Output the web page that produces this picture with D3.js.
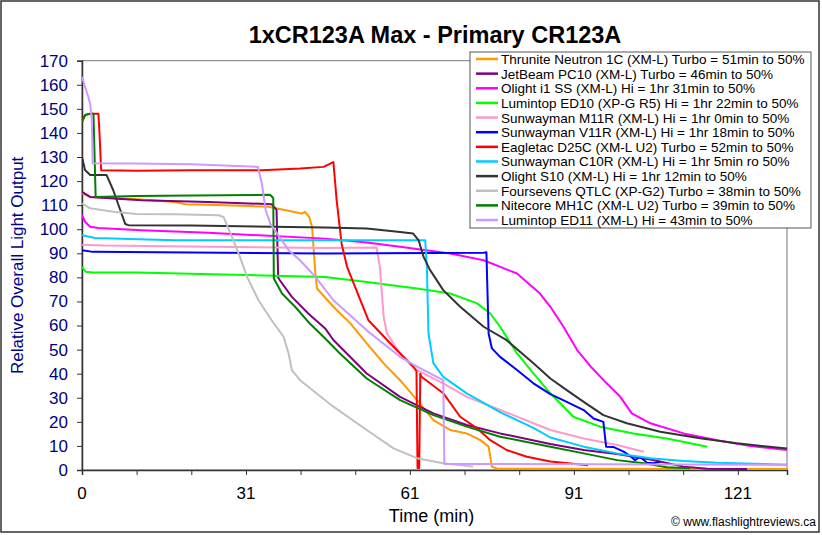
<!DOCTYPE html>
<html><head><meta charset="utf-8">
<script src="https://cdn.jsdelivr.net/npm/d3@7"></script>
<style>body{margin:0;background:#fff}svg{display:block;font-family:"Liberation Sans",Arial,sans-serif}</style>
</head><body><svg id="c" width="822" height="535"></svg>
<script>
const title = "1xCR123A Max - Primary CR123A";
const yTicks = d3.range(0, 171, 10);
const xMinorTicks = d3.range(0, 121, 10);
const xLabelPos = [0, 30, 60, 90, 120];
const xLabels = ["0", "31", "61", "91", "121"];

const names = [
 "Thrunite Neutron 1C (XM-L) Turbo = 51min to 50%",
 "JetBeam PC10 (XM-L) Turbo = 46min to 50%",
 "Olight i1 SS (XM-L) Hi = 1hr 31min to 50%",
 "Lumintop ED10 (XP-G R5) Hi = 1hr 22min to 50%",
 "Sunwayman M11R (XM-L) Hi = 1hr 0min to 50%",
 "Sunwayman V11R (XM-L) Hi = 1hr 18min to 50%",
 "Eagletac D25C (XM-L U2) Turbo  = 52min to 50%",
 "Sunwayman C10R (XM-L) Hi = 1hr 5min ro 50%",
 "Olight S10 (XM-L) Hi = 1hr 12min to 50%",
 "Foursevens QTLC (XP-G2) Turbo = 38min to 50%",
 "Nitecore MH1C (XM-L U2) Turbo = 39min to 50%",
 "Lumintop ED11 (XM-L) Hi = 43min to 50%"
];
const colors = ["#FF9900","#800080","#FF00FF","#00FF00","#FF99CC","#0000FF","#FF0000","#00CCFF","#333333","#C0C0C0","#008000","#CC99FF"];

const thrunite = [[0,115],[1.5,113.4],[10.9,112.3],[17,111.3],[18.9,110.4],[26.2,110],[34.1,109.3],[36.6,108.2],[40.2,106.5],[40.8,107.2],[41.6,105],[42.1,101],[42.7,81.6],[43,75.4],[46,67.8],[49.1,60.9],[52.1,52.6],[55.2,44.3],[58.2,37.3],[61.3,29],[64.3,20.7],[67.4,16.6],[70.4,15.2],[72.9,12.4],[74.4,9.7],[75,1.4],[76,0.5],[129,0.4]];
const jetbeam = [[0,115.5],[1.5,113.4],[10.9,112],[23.1,111.3],[34.7,110.4],[35.6,108],[35.9,80],[36.2,78.8],[38.4,71.9],[41.4,65],[44.5,58.8],[46,54],[52.1,40.1],[58.2,30.4],[64.3,23.5],[70.4,18.7],[76.5,15.2],[85.7,10.8],[91.8,8.3],[97.9,6.6],[104,4.4],[110.1,1.4],[114.4,0.5],[121.7,0.4]];
const olightI1 = [[0,105.9],[0.55,103.1],[1.5,101],[3,100.5],[10.9,99.6],[23.1,98.5],[44.5,96.1],[52.1,94.5],[58.2,92.7],[67.4,89.9],[73.5,87.1],[79.6,81.6],[83.8,73.3],[85.7,67.8],[88.1,59.5],[90.6,49.8],[93.1,42.9],[96,36],[98.5,30.4],[100.6,23.5],[104,19.4],[110.1,15.2],[116.2,12.4],[122.3,10],[129,8.3]];
const ed10 = [[0,84.4],[0.7,82.3],[2,82],[10,82],[44.5,80.2],[52.1,78.1],[61.3,75.4],[67.4,73.3],[72.3,69.2],[74.7,65],[76.5,59.5],[79.6,48.4],[82.6,40.1],[85.7,31.8],[87.5,27.7],[89.9,22.1],[94.8,18],[100.9,15.2],[107,13.1],[114.4,9.7]];
const m11r = [[0,93.6],[4,93.2],[23,92.7],[44.5,92.2],[53.9,92.4],[54.5,84.4],[55.2,63.6],[55.8,56.7],[58.2,48.4],[61.3,41.5],[66.1,36],[70.4,30.4],[76.5,25],[82.6,19.4],[85.7,16.6],[91.8,13.1],[97.9,10.4],[102.8,7.6]];
const v11r = [[0,91.3],[2,90.6],[44.5,89.9],[73.5,90.2],[74,90.4],[74.4,56.7],[75,50.5],[76.5,47],[79.6,41.5],[82.6,36],[85.7,31.5],[88.7,28.3],[91.8,24.9],[93.6,21.4],[95.4,20],[95.9,9.7],[97.2,9.6],[99.1,7.6],[100.3,5.8],[101.2,4.1],[102.1,5.5],[103.4,3],[104.5,2.8],[105.8,3.4]];
const eagletac = [[0,145.2],[0.6,147.5],[1.5,148],[3,148],[3.2,140],[3.5,124.5],[10,124.3],[20,124.5],[32.9,124.5],[39.9,125.2],[44.2,125.9],[46,127.9],[46.6,112],[47.5,94],[48.5,84.4],[52.4,62.2],[57,51.2],[60.6,42.9],[61.2,41],[61.4,0.8],[61.7,0.8],[61.9,40],[62.1,38.7],[66.1,31.9],[69.2,22.1],[72.3,17.3],[74.7,12.4],[77.7,8.3],[81.4,5.5],[85.7,3.5],[92.6,2]];
const c10r = [[0,97.5],[2.4,96.4],[17,95.4],[40,95.4],[62.8,95.4],[63.1,84.4],[63.4,56.7],[64.3,44.3],[66.1,38.7],[70.4,31.8],[76.5,24],[82.6,17.5],[85.7,13.5],[91.8,9.7],[97.9,6.9],[104,4.9],[110.1,3.7],[116.2,3],[119.8,2.8],[129,2.2]];
const olightS10 = [[0,130],[0.55,124.6],[1.5,122.5],[4.5,122.5],[5.7,116.3],[7,108],[7.9,102.2],[8.5,101.7],[20,101.5],[44.5,100.7],[52.1,100.3],[58.2,98.9],[60.6,98.2],[61.6,95.4],[62.5,88.5],[63.7,83],[66.1,74.7],[69.2,67.8],[73.5,59.5],[77.7,53.9],[82.6,44.3],[85.7,38],[88.7,33.2],[91.8,28.3],[95.4,22.8],[99.7,19.4],[105.8,15.9],[113.1,13.2],[119.8,11.1],[129,8.9]];
const qtlc = [[0,110.8],[1.5,108.7],[5.7,107.3],[10,106.3],[17,106.2],[25,105.8],[25.9,105.1],[27.7,95.4],[28.9,88.5],[30.2,80.2],[32.3,70.5],[34.7,62.2],[36.9,55.3],[37.8,48.4],[38.4,41.5],[39.9,37.3],[46,26.3],[52.1,16.6],[57,9],[61.3,4.9],[66.1,2.8],[71.6,1.4]];
const mh1c = [[0,144.5],[0.6,147.5],[1.5,148],[2.1,148],[2.5,113.4],[10,113.8],[20,114],[34.4,114.3],[35,113],[35.1,79.5],[36.6,73.3],[39,67.8],[41.4,61.5],[44.5,54.6],[47.2,48.4],[52.1,38],[58.2,29],[64.3,22.8],[70.4,18],[76.5,13.8],[85.7,9.7],[91.8,6.9],[97.9,4.1],[102.8,2.8],[107,1.1],[111.3,0.7]];
const ed11 = [[0,163.3],[0.55,159.2],[1.15,155],[1.5,152],[1.8,145],[1.95,127.4],[10,127.3],[20,127],[32.2,125.9],[32.9,119],[33.6,108],[34.5,102],[35.3,99.6],[37.8,91.3],[39.9,87.1],[42.7,80.2],[46,70.5],[52.1,58],[58.2,47],[61.3,42.9],[66.1,37.3],[66.3,2.5],[129,2.2]];

const seriesData = [thrunite, jetbeam, olightI1, ed10, m11r, v11r, eagletac, c10r, olightS10, qtlc, mh1c, ed11];

const svg = d3.select("#c");
const L = 82, R = 787, T = 60.7, B = 470;
const x = d3.scaleLinear().domain([0, 129]).range([L, R]);
const y = d3.scaleLinear().domain([0, 170]).range([B, T]);

svg.append("rect").attr("x",0).attr("y",0).attr("width",822).attr("height",535).attr("fill","#fff");
svg.append("rect").attr("x",1).attr("y",1).attr("width",818).attr("height",531).attr("fill","none").attr("stroke","#333").attr("stroke-width",1.5);

// plot frame
svg.append("rect").attr("x",L).attr("y",T).attr("width",R-L).attr("height",B-T).attr("fill","#fff").attr("stroke","#777").attr("stroke-width",1);

// title
svg.append("text").attr("x",435).attr("y",43).attr("text-anchor","middle").attr("font-size",23.5).attr("font-weight","bold").text(title);

// y axis
const yAxis = svg.append("g").attr("transform",`translate(${L},0)`)
  .call(d3.axisLeft(y).tickValues(yTicks).tickSize(5).tickPadding(9).tickFormat(d3.format("d")));
yAxis.select(".domain").attr("stroke","#333").attr("stroke-width",1.5);
yAxis.selectAll(".tick line").attr("stroke","#333");
yAxis.selectAll("text").attr("font-size",17).attr("fill","#000080").attr("font-family","Liberation Sans, Arial");

svg.append("text").attr("transform",`translate(23,${(T+B)/2}) rotate(-90)`).attr("text-anchor","middle")
  .attr("font-size",17).attr("fill","#000080").text("Relative Overall Light Output");

// x axis
const xAxis = svg.append("g").attr("transform",`translate(0,${B})`)
  .call(d3.axisBottom(x).tickValues(xMinorTicks).tickSize(5).tickFormat(""));
xAxis.select(".domain").attr("stroke","#333").attr("stroke-width",1.5);
xAxis.selectAll(".tick line").attr("stroke","#333");
svg.append("g").selectAll("text").data(xLabelPos).join("text")
  .attr("x", d => x(d)).attr("y", B + 29).attr("text-anchor","middle").attr("font-size",17)
  .text((d,i) => xLabels[i]);
svg.append("text").attr("x",(L+R)/2 - 3).attr("y",522).attr("text-anchor","middle").attr("font-size",18).text("Time (min)");
svg.append("text").attr("x",816).attr("y",526).attr("text-anchor","end").attr("font-size",12).text("© www.flashlightreviews.ca");

// lines
const line = d3.line().x(d => x(d[0])).y(d => y(d[1]));
svg.append("clipPath").attr("id","pc").append("rect").attr("x",L).attr("y",T-2).attr("width",R-L).attr("height",B-T+2);
svg.append("g").attr("clip-path","url(#pc)").selectAll("path").data(seriesData).join("path")
  .attr("d", line).attr("fill","none").attr("stroke",(d,i)=>colors[i]).attr("stroke-width",2).attr("stroke-linejoin","round");

// legend
const lg = svg.append("g").attr("transform","translate(470,52)");
lg.append("rect").attr("x",0).attr("y",0).attr("width",341).attr("height",176).attr("fill","#fff").attr("stroke","#555").attr("stroke-width",1);
const items = lg.selectAll("g.it").data(names).join("g").attr("class","it").attr("transform",(d,i)=>`translate(0,${7+i*14.64})`);
items.append("line").attr("x1",6).attr("x2",28).attr("y1",0).attr("y2",0).attr("stroke",(d,i)=>colors[i]).attr("stroke-width",2.5);
items.append("text").attr("x",31).attr("y",5).attr("font-size",13.5).text(d=>d);
</script></body></html>
